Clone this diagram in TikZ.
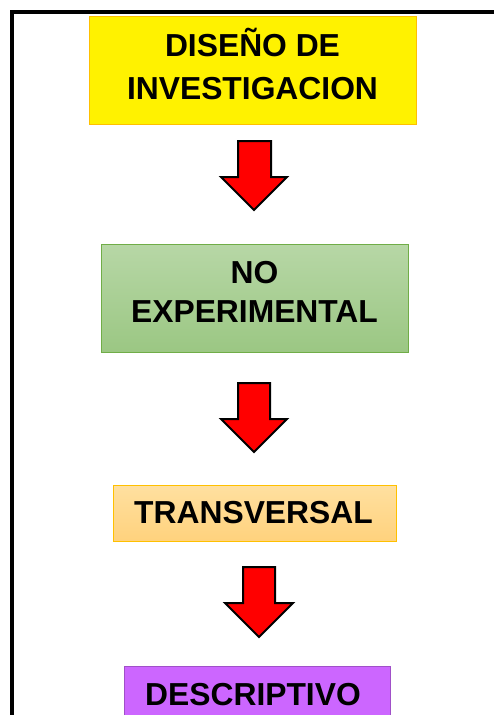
\documentclass[tikz,border=0pt]{standalone}
\usepackage{fontspec}
\setmainfont{Liberation Sans}
\begin{document}
\begin{tikzpicture}[x=1pt,y=-1pt,
  boxtext/.style={font=\fontsize{31.8}{41}\selectfont\bfseries, align=center, inner sep=0pt, text=black, line width=1pt},
  blockarrow/.style={fill=red, draw=black, line width=2pt, line join=miter}]
\useasboundingbox (0,0) rectangle (494,715);
\clip (0,0) rectangle (494,715);
\fill[white] (0,0) rectangle (494,715);
% frame
\draw[line width=4pt] (12,740) -- (12,11.5) -- (520,11.5);
% boxes
\node[boxtext, fill=yellow, draw={rgb,255:red,255;green,192;blue,0},
  minimum width=327pt, minimum height=108pt] (dis) at (252.5,70)
  {\raisebox{12.5pt}{\shortstack[c]{DISEÑO DE\\[17pt]INVESTIGACION}}};
\node[boxtext, top color={rgb,255:red,183;green,215;blue,166}, bottom color={rgb,255:red,155;green,199;blue,131},
  draw={rgb,255:red,112;green,173;blue,71},
  minimum width=307pt, minimum height=108pt] (noexp) at (254.5,298)
  {\raisebox{11.5pt}{\shortstack[c]{NO\\[14pt]EXPERIMENTAL}}};
\node[boxtext, top color={rgb,255:red,255;green,224;blue,160}, bottom color={rgb,255:red,255;green,210;blue,125},
  draw={rgb,255:red,255;green,192;blue,0},
  minimum width=283pt, minimum height=56pt] (trans) at (254.5,513)
  {\hspace*{-2pt}TRANSVERSAL};
\node[boxtext, fill={rgb,255:red,204;green,102;blue,255}, draw={rgb,255:red,160;green,80;blue,200},
  minimum width=266pt, minimum height=57pt] (desc) at (257,694.5)
  {\hspace*{-8pt}DESCRIPTIVO};
% block arrows
\draw[blockarrow] (238,141) -- (271,141) -- (271,177) -- (287,177) -- (254,210) -- (221,177) -- (238,177) -- cycle;
\draw[blockarrow] (238,383) -- (270,383) -- (270,419) -- (287,419) -- (254,452) -- (221,419) -- (238,419) -- cycle;
\draw[blockarrow] (243,567) -- (275,567) -- (275,603) -- (293,603) -- (259,637) -- (225,603) -- (243,603) -- cycle;
\end{tikzpicture}
\end{document}
